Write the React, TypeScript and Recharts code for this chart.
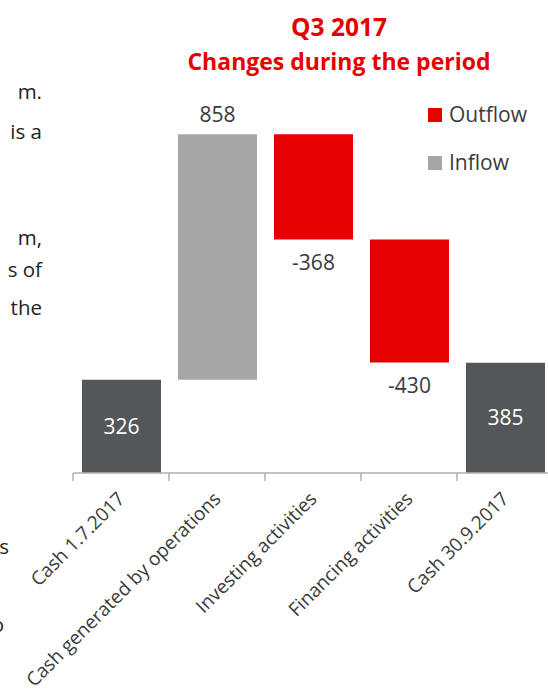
import { BarChart, Bar, XAxis, YAxis, LabelList } from 'recharts'

const categories = [
  'Cash 1.7.2017',
  'Cash generated by operations',
  'Investing activities',
  'Financing activities',
  'Cash 30.9.2017',
]
const openingCash = 326
const flows = [858, -368, -430]
const closingCash = 385

const titleLines = ['Q3 2017', 'Changes during the period']
const legendItems = [
  { name: 'Outflow', color: '#e60000' },
  { name: 'Inflow', color: '#a6a6a6' },
]
// cut-off body text from the page to the left of the chart
const sideText = [
  { text: 'm.', y: 91, right: 42 },
  { text: 'is a', y: 131, right: 42 },
  { text: 'm,', y: 237, right: 42 },
  { text: 's of', y: 269, right: 42 },
  { text: 'the', y: 307, right: 42 },
  { text: 's', y: 546, right: 9 },
  { text: 'o', y: 624, right: 4 },
]

const RED = '#e60000'
const GREY = '#a6a6a6'
const DARK = '#54575a'
const TEXT = '#3a3a3a'
const AXIS = '#b0b0b0'
const FONT = '"Open Sans", sans-serif'

type Row = {
  name: string
  base: number
  total: number | null
  inflow: number | null
  outflow: number | null
  totalLabel?: string
  inLabel?: string
  outLabel?: string
}

const rows: Row[] = []
let running = openingCash
rows.push({ name: categories[0], base: 0, total: openingCash, inflow: null, outflow: null, totalLabel: String(openingCash) })
flows.forEach((v, i) => {
  if (v >= 0) {
    rows.push({ name: categories[i + 1], base: running, total: null, inflow: v, outflow: null, inLabel: String(v) })
    running += v
  } else {
    running += v
    rows.push({ name: categories[i + 1], base: running, total: null, inflow: null, outflow: -v, outLabel: String(v) })
  }
})
rows.push({ name: categories[4], base: 0, total: closingCash, inflow: null, outflow: null, totalLabel: String(closingCash) })

function CategoryTick(props: any) {
  const { x, y, payload } = props
  const half = payload.offset || 48
  const tx = x + 5
  const ty = y + 27
  return (
    <g>
      <line x1={x - half} y1={y} x2={x - half} y2={y + 8} stroke={AXIS} strokeWidth={1.5} />
      <text
        x={tx}
        y={ty}
        transform={`rotate(-45 ${tx} ${ty})`}
        textAnchor="end"
        fontSize={19}
        fontFamily={FONT}
        fill={TEXT}
      >
        {payload.value}
      </text>
    </g>
  )
}

export default function App() {
  return (
    <div style={{ position: 'absolute', left: 0, top: 0, width: 548, height: 695, overflow: 'hidden', background: '#fff' }}>
      <BarChart
        width={560}
        height={695}
        data={rows}
        margin={{ top: 101, right: 7, bottom: 192, left: 73 }}
        barSize={79}
      >
        <XAxis
          dataKey="name"
          height={30}
          interval={0}
          tickSize={0}
          tickMargin={0}
          tickLine={false}
          axisLine={{ stroke: AXIS, strokeWidth: 1.5 }}
          tick={<CategoryTick />}
        />
        <YAxis hide domain={[0, 1300]} />
        <Bar dataKey="base" stackId="w" fill="transparent" isAnimationActive={false} />
        <Bar dataKey="total" stackId="w" fill={DARK} isAnimationActive={false}>
          <LabelList dataKey="totalLabel" position="center" fill="#ffffff" fontSize={21} fontFamily={FONT} />
        </Bar>
        <Bar dataKey="outflow" stackId="w" fill={RED} isAnimationActive={false}>
          <LabelList dataKey="outLabel" position="bottom" offset={16} fill={TEXT} fontSize={21} fontFamily={FONT} />
        </Bar>
        <Bar dataKey="inflow" stackId="w" fill={GREY} isAnimationActive={false}>
          <LabelList dataKey="inLabel" position="top" offset={12} fill={TEXT} fontSize={21} fontFamily={FONT} />
        </Bar>
      </BarChart>
      <svg width={548} height={695} style={{ position: 'absolute', left: 0, top: 0, pointerEvents: 'none' }}>
        <text x={339} y={36} textAnchor="middle" fontSize={24.5} fontWeight="bold" fontFamily={FONT} fill={RED}>
          {titleLines[0]}
        </text>
        <text x={339} y={70} textAnchor="middle" fontSize={23} fontWeight="bold" fontFamily={FONT} fill={RED}>
          {titleLines[1]}
        </text>
        {legendItems.map((item, i) => (
          <g key={item.name}>
            <rect x={428} y={108 + i * 48} width={14} height={14} fill={item.color} />
            <text x={449} y={122 + i * 48} fontSize={21} fontFamily={FONT} fill={TEXT}>
              {item.name}
            </text>
          </g>
        ))}
        {sideText.map((s) => (
          <text key={s.y} x={s.right} y={s.y} textAnchor="end" dominantBaseline="central" fontSize={20.5} fontFamily={FONT} fill="#222">
            {s.text}
          </text>
        ))}
      </svg>
    </div>
  )
}
